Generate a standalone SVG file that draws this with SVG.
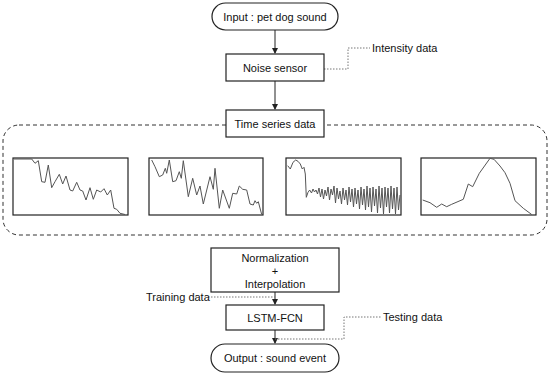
<svg xmlns="http://www.w3.org/2000/svg" width="550" height="378" viewBox="0 0 550 378">
<defs>
<style>
.box{fill:#fff;stroke:#222;stroke-width:1.2}
.t{font-family:"Liberation Sans",Arial,sans-serif;font-size:11px;fill:#111;text-anchor:middle}
.tl{font-family:"Liberation Sans",Arial,sans-serif;font-size:11px;fill:#111}
.ln{fill:none;stroke:#222;stroke-width:1}
.dot{fill:none;stroke:#777;stroke-width:1;stroke-dasharray:1.5 1.5}
.chart{fill:#fff;stroke:#222;stroke-width:1.2}
.sig{fill:none;stroke:#555;stroke-width:1}
</style>
<marker id="ah" markerWidth="6" markerHeight="6" refX="5" refY="3" orient="auto" markerUnits="userSpaceOnUse">
<path d="M0,0 L6,3 L0,6 Z" fill="#222"/>
</marker>
</defs>
<rect width="550" height="378" fill="#fff"/>

<g id="group-time-series">
<rect x="3" y="125" width="544" height="110" rx="16" ry="16" fill="none" stroke="#333" stroke-width="1" stroke-dasharray="4 3"/>
</g>

<g id="connectors">
<line class="ln" x1="275" y1="30" x2="275" y2="53" marker-end="url(#ah)"/>
<line class="ln" x1="275" y1="81" x2="275" y2="109" marker-end="url(#ah)"/>
<line class="ln" x1="275" y1="292" x2="275" y2="304" marker-end="url(#ah)"/>
<line class="ln" x1="275" y1="330" x2="275" y2="343" marker-end="url(#ah)"/>
<polyline class="dot" points="324,69 348,69 348,48 370,48"/>
<polyline class="dot" points="208,297 275,297"/>
<polyline class="dot" points="275,339 344,339 344,317 382,317"/>
</g>

<g id="node-input">
<rect class="box" x="212" y="3" width="126" height="27" rx="13.5" ry="13.5"/>
<text class="t" x="275" y="20.5">Input : pet dog sound</text>
</g>

<g id="node-noise-sensor">
<rect class="box" x="226" y="54" width="98" height="27"/>
<text class="t" x="275" y="71.5">Noise sensor</text>
</g>

<g id="label-intensity">
<text class="tl" x="372" y="52">Intensity data</text>
</g>

<g id="node-time-series">
<rect class="box" x="226" y="110" width="98" height="27"/>
<text class="t" x="275" y="127.5">Time series data</text>
</g>

<g id="chart-1">
<rect class="chart" x="13" y="158" width="115" height="57"/>
<polyline class="sig" points="14,159 31.7,159 35,163.3 38.3,160.7 41.7,181.7 45,182.3 48.3,165 51.7,187.7 55,181.7 59.3,174.3 62.7,184 66,176 70,190 72.7,191 76.7,182.3 80,190 82.7,191 86,200 90,187.7 93.3,199.3 96.7,190 100.7,192 104,188.7 107.3,195 110.7,190 114,208.3 116.7,209.3 120,213.3 125,214.5"/>
</g>

<g id="chart-2">
<rect class="chart" x="149" y="158" width="114" height="57"/>
<polyline class="sig" points="151.7,160 155,166.7 159.3,176.7 162.7,175 165.3,168.3 166.7,173.3 169.3,160 172.7,181.7 176,180.7 179.3,171.7 181.3,178.3 183.3,160.7 188.3,196.7 192.7,178.3 196.7,195 200,186 203.3,204 210,176.7 213.3,189.3 215,168.3 219.3,208.3 222.7,190 229.3,208.3 232.7,193.3 236.7,194 239.3,186 242.7,189.3 246.7,190 250,204 253.3,205 255,200.7 256.7,203.3 258.3,201.7 261.7,214.5"/>
</g>

<g id="chart-3">
<rect class="chart" x="286" y="158" width="115" height="57"/>
<polyline class="sig" points="287.7,165.7 290.3,169 293,162.3 295.7,160 298,161.3 300.3,164 302.3,169 304,167.3 305.3,174 306.3,197.3 308,192.3 309.7,190 311.5,193 313,189 314.5,192 316,190 317.5,194 319,188 320.5,197 322,189 323.5,199 325,190 326.5,196 328,187 329.5,200 331,189 332.5,195 334,186 335.5,203 337,188 338.5,199 340,191 341.5,204 343,188 344.5,200 346,190 347.5,205 349,187 350.5,202 352,189 353.5,207 355,188 356.5,204 358,190 359.5,209 361,187 362.5,205 364,189 365.5,210 367,186 368.5,207 370,188 371.5,212 373,187 374.5,206 376,189 377.5,213 379,186 380.5,208 382,188 383.5,214 385,187 386.5,207 388,188 389.5,213 391,186 392.5,209 394,188 395.5,214 397,187 398.5,210 400,195"/>
</g>

<g id="chart-4">
<rect class="chart" x="421" y="158" width="115" height="57"/>
<polyline class="sig" points="422.7,200 430,202.7 436.7,207.3 441.7,204 446.7,206.7 451.7,204.3 463.3,199.3 468.3,184 472.7,186.7 479.3,173.3 490,158.3 494,159.3 500,166 505,172.7 510,183.3 515,200.7 523.3,208.3 531.7,214.5"/>
</g>

<g id="node-normalization">
<rect class="box" x="211" y="248" width="128" height="44"/>
<text class="t" x="275" y="262">Normalization</text>
<text class="t" x="275" y="275">+</text>
<text class="t" x="275" y="288">Interpolation</text>
</g>

<g id="label-training">
<text class="tl" x="146" y="300.5">Training data</text>
</g>

<g id="node-lstm">
<rect class="box" x="226" y="305" width="98" height="25"/>
<text class="t" x="275" y="321.5">LSTM-FCN</text>
</g>

<g id="label-testing">
<text class="tl" x="383" y="321">Testing data</text>
</g>

<g id="node-output">
<rect class="box" x="211" y="344" width="128" height="28" rx="14" ry="14"/>
<text class="t" x="275" y="362">Output : sound event</text>
</g>
</svg>
